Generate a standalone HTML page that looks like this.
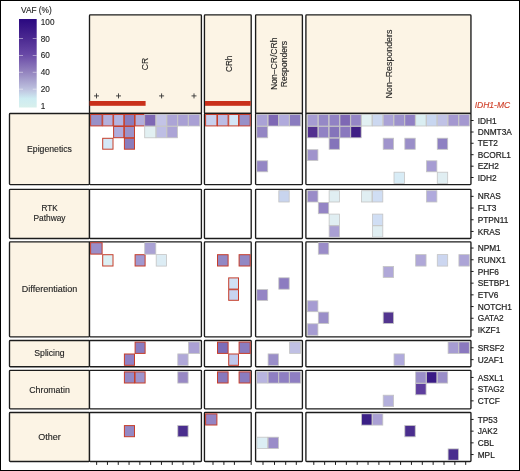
<!DOCTYPE html><html><head><meta charset="utf-8"><style>html,body{margin:0;padding:0;background:#fff}svg{display:block;will-change:transform}text{font-family:"Liberation Sans",sans-serif;fill:#222222;stroke:#222222;stroke-width:0.12px}</style></head><body>
<svg width="520" height="471" viewBox="0 0 520 471">
<defs><linearGradient id="vaf" x1="0" y1="1" x2="0" y2="0"><stop offset="0" stop-color="#d8f0ec"/><stop offset="0.1" stop-color="#cdecf2"/><stop offset="0.2" stop-color="#bfc4e0"/><stop offset="0.4" stop-color="#9484bf"/><stop offset="0.6" stop-color="#6848a6"/><stop offset="0.8" stop-color="#48268f"/><stop offset="1" stop-color="#2a0880"/></linearGradient></defs>
<rect x="0" y="0" width="520" height="471" fill="#fff"/>
<text x="21" y="12.7" font-size="8.3">VAF (%)</text>
<rect x="19" y="19" width="17.7" height="88.5" fill="url(#vaf)"/>
<line x1="19" y1="38.5" x2="23" y2="38.5" stroke="#fff" stroke-opacity="0.45" stroke-width="1"/>
<line x1="32.7" y1="38.5" x2="36.7" y2="38.5" stroke="#fff" stroke-opacity="0.45" stroke-width="1"/>
<line x1="19" y1="55.5" x2="23" y2="55.5" stroke="#fff" stroke-opacity="0.45" stroke-width="1"/>
<line x1="32.7" y1="55.5" x2="36.7" y2="55.5" stroke="#fff" stroke-opacity="0.45" stroke-width="1"/>
<line x1="19" y1="72.3" x2="23" y2="72.3" stroke="#fff" stroke-opacity="0.45" stroke-width="1"/>
<line x1="32.7" y1="72.3" x2="36.7" y2="72.3" stroke="#fff" stroke-opacity="0.45" stroke-width="1"/>
<line x1="19" y1="89.2" x2="23" y2="89.2" stroke="#fff" stroke-opacity="0.45" stroke-width="1"/>
<line x1="32.7" y1="89.2" x2="36.7" y2="89.2" stroke="#fff" stroke-opacity="0.45" stroke-width="1"/>
<text x="40.8" y="25.3" font-size="8.2">100</text>
<text x="40.8" y="41.6" font-size="8.2">80</text>
<text x="40.8" y="58.3" font-size="8.2">60</text>
<text x="40.8" y="75.1" font-size="8.2">40</text>
<text x="40.8" y="92.1" font-size="8.2">20</text>
<text x="40.8" y="108.6" font-size="8.2">1</text>
<rect x="89.50" y="14.85" width="111.90" height="98.65" rx="0.8" fill="#fcf4e5" stroke="#1c1c1c" stroke-width="1.35"/>
<rect x="204.45" y="14.85" width="46.75" height="98.65" rx="0.8" fill="#fcf4e5" stroke="#1c1c1c" stroke-width="1.35"/>
<rect x="255.60" y="14.85" width="46.80" height="98.65" rx="0.8" fill="#fcf4e5" stroke="#1c1c1c" stroke-width="1.35"/>
<rect x="305.90" y="14.85" width="165.05" height="98.65" rx="0.8" fill="#fcf4e5" stroke="#1c1c1c" stroke-width="1.35"/>
<rect x="9.50" y="113.50" width="80.00" height="71.10" rx="0.8" fill="#fcf4e5" stroke="#1c1c1c" stroke-width="1.35"/>
<rect x="89.50" y="113.50" width="111.90" height="71.10" rx="0.8" fill="#fff" stroke="#1c1c1c" stroke-width="1.35"/>
<rect x="204.45" y="113.50" width="46.75" height="71.10" rx="0.8" fill="#fff" stroke="#1c1c1c" stroke-width="1.35"/>
<rect x="255.60" y="113.50" width="46.80" height="71.10" rx="0.8" fill="#fff" stroke="#1c1c1c" stroke-width="1.35"/>
<rect x="305.90" y="113.50" width="165.05" height="71.10" rx="0.8" fill="#fff" stroke="#1c1c1c" stroke-width="1.35"/>
<rect x="9.50" y="189.30" width="80.00" height="49.15" rx="0.8" fill="#fcf4e5" stroke="#1c1c1c" stroke-width="1.35"/>
<rect x="89.50" y="189.30" width="111.90" height="49.15" rx="0.8" fill="#fff" stroke="#1c1c1c" stroke-width="1.35"/>
<rect x="204.45" y="189.30" width="46.75" height="49.15" rx="0.8" fill="#fff" stroke="#1c1c1c" stroke-width="1.35"/>
<rect x="255.60" y="189.30" width="46.80" height="49.15" rx="0.8" fill="#fff" stroke="#1c1c1c" stroke-width="1.35"/>
<rect x="305.90" y="189.30" width="165.05" height="49.15" rx="0.8" fill="#fff" stroke="#1c1c1c" stroke-width="1.35"/>
<rect x="9.50" y="241.90" width="80.00" height="94.95" rx="0.8" fill="#fcf4e5" stroke="#1c1c1c" stroke-width="1.35"/>
<rect x="89.50" y="241.90" width="111.90" height="94.95" rx="0.8" fill="#fff" stroke="#1c1c1c" stroke-width="1.35"/>
<rect x="204.45" y="241.90" width="46.75" height="94.95" rx="0.8" fill="#fff" stroke="#1c1c1c" stroke-width="1.35"/>
<rect x="255.60" y="241.90" width="46.80" height="94.95" rx="0.8" fill="#fff" stroke="#1c1c1c" stroke-width="1.35"/>
<rect x="305.90" y="241.90" width="165.05" height="94.95" rx="0.8" fill="#fff" stroke="#1c1c1c" stroke-width="1.35"/>
<rect x="9.50" y="340.50" width="80.00" height="26.20" rx="0.8" fill="#fcf4e5" stroke="#1c1c1c" stroke-width="1.35"/>
<rect x="89.50" y="340.50" width="111.90" height="26.20" rx="0.8" fill="#fff" stroke="#1c1c1c" stroke-width="1.35"/>
<rect x="204.45" y="340.50" width="46.75" height="26.20" rx="0.8" fill="#fff" stroke="#1c1c1c" stroke-width="1.35"/>
<rect x="255.60" y="340.50" width="46.80" height="26.20" rx="0.8" fill="#fff" stroke="#1c1c1c" stroke-width="1.35"/>
<rect x="305.90" y="340.50" width="165.05" height="26.20" rx="0.8" fill="#fff" stroke="#1c1c1c" stroke-width="1.35"/>
<rect x="9.50" y="370.30" width="80.00" height="38.55" rx="0.8" fill="#fcf4e5" stroke="#1c1c1c" stroke-width="1.35"/>
<rect x="89.50" y="370.30" width="111.90" height="38.55" rx="0.8" fill="#fff" stroke="#1c1c1c" stroke-width="1.35"/>
<rect x="204.45" y="370.30" width="46.75" height="38.55" rx="0.8" fill="#fff" stroke="#1c1c1c" stroke-width="1.35"/>
<rect x="255.60" y="370.30" width="46.80" height="38.55" rx="0.8" fill="#fff" stroke="#1c1c1c" stroke-width="1.35"/>
<rect x="305.90" y="370.30" width="165.05" height="38.55" rx="0.8" fill="#fff" stroke="#1c1c1c" stroke-width="1.35"/>
<rect x="9.50" y="412.50" width="80.00" height="49.00" rx="0.8" fill="#fcf4e5" stroke="#1c1c1c" stroke-width="1.35"/>
<rect x="89.50" y="412.50" width="111.90" height="49.00" rx="0.8" fill="#fff" stroke="#1c1c1c" stroke-width="1.35"/>
<rect x="204.45" y="412.50" width="46.75" height="49.00" rx="0.8" fill="#fff" stroke="#1c1c1c" stroke-width="1.35"/>
<rect x="255.60" y="412.50" width="46.80" height="49.00" rx="0.8" fill="#fff" stroke="#1c1c1c" stroke-width="1.35"/>
<rect x="305.90" y="412.50" width="165.05" height="49.00" rx="0.8" fill="#fff" stroke="#1c1c1c" stroke-width="1.35"/>
<rect x="89.6" y="101.0" width="56.0" height="4.8" fill="#c9301b"/>
<rect x="205.0" y="101.0" width="45.7" height="4.8" fill="#c9301b"/>
<path d="M94.0 95.9h5M96.5 93.4v5" stroke="#333" stroke-width="0.9" fill="none"/>
<path d="M116.0 95.9h5M118.5 93.4v5" stroke="#333" stroke-width="0.9" fill="none"/>
<path d="M159.1 95.9h5M161.6 93.4v5" stroke="#333" stroke-width="0.9" fill="none"/>
<path d="M191.5 95.9h5M194.0 93.4v5" stroke="#333" stroke-width="0.9" fill="none"/>
<text transform="translate(148,64) rotate(-90)" font-size="8.6" text-anchor="middle">CR</text>
<text transform="translate(232.4,63.8) rotate(-90)" font-size="8.2" text-anchor="middle">CRh</text>
<text transform="translate(276.8,63.8) rotate(-90)" font-size="8.6" text-anchor="middle">Non–CR/CRh</text>
<text transform="translate(287,64) rotate(-90)" font-size="8.6" text-anchor="middle">Responders</text>
<text transform="translate(391.8,64) rotate(-90)" font-size="8.85" text-anchor="middle">Non–Responders</text>
<text x="474.7" y="108.2" font-size="8.5" font-style="italic" style="fill:#d0422b;stroke:#d0422b;stroke-width:0.15px">IDH1-MC</text>
<text x="49.5" y="152" font-size="8.7" text-anchor="middle">Epigenetics</text>
<text x="49.5" y="211.1" font-size="8.2" text-anchor="middle">RTK</text>
<text x="49.5" y="221.4" font-size="8.4" text-anchor="middle">Pathway</text>
<text x="49.5" y="292.2" font-size="9" text-anchor="middle">Differentiation</text>
<text x="49.5" y="356.4" font-size="8.7" text-anchor="middle">Splicing</text>
<text x="49.5" y="392.6" font-size="8.8" text-anchor="middle">Chromatin</text>
<text x="49.5" y="439.6" font-size="9" text-anchor="middle">Other</text>
<rect x="90.60" y="114.50" width="11.50" height="11.40" fill="#9890c8" stroke="#c63e2b" stroke-width="1.0"/>
<rect x="102.70" y="114.50" width="10.30" height="11.40" fill="#b4b0dc" stroke="#c63e2b" stroke-width="1.0"/>
<rect x="113.60" y="114.50" width="10.20" height="11.40" fill="#b4b4e0" stroke="#c63e2b" stroke-width="1.0"/>
<rect x="124.40" y="114.50" width="10.10" height="11.40" fill="#8a7cbc" stroke="#c63e2b" stroke-width="1.0"/>
<rect x="135.10" y="114.50" width="10.00" height="11.40" fill="#b2aedb" stroke="#c63e2b" stroke-width="1.0"/>
<rect x="113.60" y="126.50" width="10.20" height="11.20" fill="#b0acdc" stroke="#c63e2b" stroke-width="1.0"/>
<rect x="124.40" y="126.50" width="10.10" height="11.20" fill="#9b92c9" stroke="#c63e2b" stroke-width="1.0"/>
<rect x="102.70" y="138.30" width="10.30" height="10.90" fill="#d5e8f7" stroke="#c63e2b" stroke-width="1.0"/>
<rect x="124.40" y="138.30" width="10.10" height="10.90" fill="#8a7cbc" stroke="#c63e2b" stroke-width="1.0"/>
<rect x="205.60" y="114.50" width="11.30" height="11.40" fill="#c8d0ee" stroke="#c63e2b" stroke-width="1.0"/>
<rect x="217.50" y="114.50" width="10.60" height="11.40" fill="#bcbce4" stroke="#c63e2b" stroke-width="1.0"/>
<rect x="228.70" y="114.50" width="9.80" height="11.40" fill="#d4e6f6" stroke="#c63e2b" stroke-width="1.0"/>
<rect x="239.10" y="114.50" width="11.10" height="11.40" fill="#9890c8" stroke="#c63e2b" stroke-width="1.0"/>
<rect x="144.70" y="114.40" width="11.10" height="11.60" fill="#7e68b4" stroke="#c4c4c4" stroke-width="0.8"/>
<rect x="156.20" y="114.40" width="10.40" height="11.60" fill="#c3c3e6" stroke="#c4c4c4" stroke-width="0.8"/>
<rect x="167.00" y="114.40" width="10.40" height="11.60" fill="#aca4d6" stroke="#c4c4c4" stroke-width="0.8"/>
<rect x="177.80" y="114.40" width="10.30" height="11.60" fill="#a9a0d4" stroke="#c4c4c4" stroke-width="0.8"/>
<rect x="188.50" y="114.40" width="11.20" height="11.60" fill="#a9a0d4" stroke="#c4c4c4" stroke-width="0.8"/>
<rect x="144.70" y="126.40" width="11.10" height="11.40" fill="#e2f0f2" stroke="#c4c4c4" stroke-width="0.8"/>
<rect x="156.20" y="126.40" width="10.40" height="11.40" fill="#bebee4" stroke="#c4c4c4" stroke-width="0.8"/>
<rect x="167.00" y="126.40" width="10.40" height="11.40" fill="#aca4d6" stroke="#c4c4c4" stroke-width="0.8"/>
<rect x="256.80" y="114.40" width="10.90" height="11.60" fill="#aaa2d6" stroke="#c4c4c4" stroke-width="0.8"/>
<rect x="268.10" y="114.40" width="10.30" height="11.60" fill="#7e68b4" stroke="#c4c4c4" stroke-width="0.8"/>
<rect x="278.80" y="114.40" width="10.40" height="11.60" fill="#b0aadc" stroke="#c4c4c4" stroke-width="0.8"/>
<rect x="289.60" y="114.40" width="10.80" height="11.60" fill="#8a7cbf" stroke="#c4c4c4" stroke-width="0.8"/>
<rect x="256.80" y="126.40" width="10.90" height="11.40" fill="#9486c4" stroke="#c4c4c4" stroke-width="0.8"/>
<rect x="256.80" y="160.80" width="10.90" height="11.00" fill="#9486c4" stroke="#c4c4c4" stroke-width="0.8"/>
<rect x="307.50" y="114.40" width="10.41" height="11.60" fill="#a69cd2" stroke="#c4c4c4" stroke-width="0.8"/>
<rect x="318.31" y="114.40" width="10.41" height="11.60" fill="#9588c6" stroke="#c4c4c4" stroke-width="0.8"/>
<rect x="329.13" y="114.40" width="10.41" height="11.60" fill="#9182c4" stroke="#c4c4c4" stroke-width="0.8"/>
<rect x="339.94" y="114.40" width="10.41" height="11.60" fill="#7e68b4" stroke="#c4c4c4" stroke-width="0.8"/>
<rect x="350.76" y="114.40" width="10.41" height="11.60" fill="#9586c6" stroke="#c4c4c4" stroke-width="0.8"/>
<rect x="361.57" y="114.40" width="10.41" height="11.60" fill="#e2f0f2" stroke="#c4c4c4" stroke-width="0.8"/>
<rect x="372.39" y="114.40" width="10.41" height="11.60" fill="#ccd8f0" stroke="#c4c4c4" stroke-width="0.8"/>
<rect x="383.20" y="114.40" width="10.41" height="11.60" fill="#aaa2d6" stroke="#c4c4c4" stroke-width="0.8"/>
<rect x="394.02" y="114.40" width="10.41" height="11.60" fill="#9d92cc" stroke="#c4c4c4" stroke-width="0.8"/>
<rect x="404.83" y="114.40" width="10.41" height="11.60" fill="#9080c4" stroke="#c4c4c4" stroke-width="0.8"/>
<rect x="415.65" y="114.40" width="10.41" height="11.60" fill="#daeef2" stroke="#c4c4c4" stroke-width="0.8"/>
<rect x="426.46" y="114.40" width="10.42" height="11.60" fill="#c8d6f0" stroke="#c4c4c4" stroke-width="0.8"/>
<rect x="437.28" y="114.40" width="10.41" height="11.60" fill="#c0c2e6" stroke="#c4c4c4" stroke-width="0.8"/>
<rect x="448.09" y="114.40" width="10.42" height="11.60" fill="#a498d0" stroke="#c4c4c4" stroke-width="0.8"/>
<rect x="458.91" y="114.40" width="10.41" height="11.60" fill="#a498d0" stroke="#c4c4c4" stroke-width="0.8"/>
<rect x="307.50" y="126.40" width="10.41" height="11.40" fill="#52308f" stroke="#c4c4c4" stroke-width="0.8"/>
<rect x="318.31" y="126.40" width="10.41" height="11.40" fill="#9182c4" stroke="#c4c4c4" stroke-width="0.8"/>
<rect x="329.13" y="126.40" width="10.41" height="11.40" fill="#8474ba" stroke="#c4c4c4" stroke-width="0.8"/>
<rect x="339.94" y="126.40" width="10.41" height="11.40" fill="#8a78be" stroke="#c4c4c4" stroke-width="0.8"/>
<rect x="350.76" y="126.40" width="10.41" height="11.40" fill="#3f1f85" stroke="#c4c4c4" stroke-width="0.8"/>
<rect x="329.13" y="138.20" width="10.41" height="11.10" fill="#8474ba" stroke="#c4c4c4" stroke-width="0.8"/>
<rect x="383.20" y="138.20" width="10.41" height="11.10" fill="#a094cc" stroke="#c4c4c4" stroke-width="0.8"/>
<rect x="404.83" y="138.20" width="10.41" height="11.10" fill="#9a8ec8" stroke="#c4c4c4" stroke-width="0.8"/>
<rect x="437.28" y="138.20" width="10.41" height="11.10" fill="#8e80c2" stroke="#c4c4c4" stroke-width="0.8"/>
<rect x="307.50" y="149.70" width="10.41" height="10.70" fill="#a094cc" stroke="#c4c4c4" stroke-width="0.8"/>
<rect x="426.46" y="160.80" width="10.42" height="11.00" fill="#a69cd2" stroke="#c4c4c4" stroke-width="0.8"/>
<rect x="394.02" y="172.20" width="10.41" height="11.30" fill="#d8ecf6" stroke="#c4c4c4" stroke-width="0.8"/>
<rect x="437.28" y="172.20" width="10.41" height="11.30" fill="#e0eef2" stroke="#c4c4c4" stroke-width="0.8"/>
<rect x="278.80" y="190.70" width="10.40" height="11.30" fill="#c8d4ee" stroke="#c4c4c4" stroke-width="0.8"/>
<rect x="307.50" y="190.70" width="10.41" height="11.30" fill="#9a8cc8" stroke="#c4c4c4" stroke-width="0.8"/>
<rect x="329.13" y="190.70" width="10.41" height="11.30" fill="#e0eef2" stroke="#c4c4c4" stroke-width="0.8"/>
<rect x="361.57" y="190.70" width="10.41" height="11.30" fill="#e0eef2" stroke="#c4c4c4" stroke-width="0.8"/>
<rect x="372.39" y="190.70" width="10.41" height="11.30" fill="#d0def4" stroke="#c4c4c4" stroke-width="0.8"/>
<rect x="426.46" y="190.70" width="10.42" height="11.30" fill="#b0aadc" stroke="#c4c4c4" stroke-width="0.8"/>
<rect x="318.31" y="202.40" width="10.41" height="11.30" fill="#9484c4" stroke="#c4c4c4" stroke-width="0.8"/>
<rect x="329.13" y="214.10" width="10.41" height="11.30" fill="#e0eef2" stroke="#c4c4c4" stroke-width="0.8"/>
<rect x="372.39" y="214.10" width="10.41" height="11.30" fill="#d0def4" stroke="#c4c4c4" stroke-width="0.8"/>
<rect x="329.13" y="225.80" width="10.41" height="11.30" fill="#aaa0d4" stroke="#c4c4c4" stroke-width="0.8"/>
<rect x="372.39" y="225.80" width="10.41" height="11.30" fill="#e0eef2" stroke="#c4c4c4" stroke-width="0.8"/>
<rect x="90.60" y="242.70" width="11.50" height="11.40" fill="#9a8ec8" stroke="#c63e2b" stroke-width="1.0"/>
<rect x="102.70" y="254.70" width="10.30" height="11.30" fill="#dcf0f4" stroke="#c63e2b" stroke-width="1.0"/>
<rect x="135.10" y="254.70" width="10.00" height="11.30" fill="#a098d0" stroke="#c63e2b" stroke-width="1.0"/>
<rect x="217.50" y="254.70" width="10.60" height="11.30" fill="#9288c4" stroke="#c63e2b" stroke-width="1.0"/>
<rect x="239.10" y="254.70" width="11.10" height="11.30" fill="#9288c4" stroke="#c63e2b" stroke-width="1.0"/>
<rect x="228.70" y="277.90" width="9.80" height="11.20" fill="#d0e0f4" stroke="#c63e2b" stroke-width="1.0"/>
<rect x="228.70" y="289.70" width="9.80" height="10.60" fill="#c8d4f0" stroke="#c63e2b" stroke-width="1.0"/>
<rect x="144.70" y="242.60" width="11.10" height="11.60" fill="#aaa2d4" stroke="#c4c4c4" stroke-width="0.8"/>
<rect x="156.20" y="254.60" width="10.40" height="11.50" fill="#dcecf4" stroke="#c4c4c4" stroke-width="0.8"/>
<rect x="278.80" y="277.80" width="10.40" height="11.40" fill="#8c7cc0" stroke="#c4c4c4" stroke-width="0.8"/>
<rect x="256.80" y="289.60" width="10.90" height="10.80" fill="#9484c4" stroke="#c4c4c4" stroke-width="0.8"/>
<rect x="318.31" y="242.60" width="10.41" height="11.60" fill="#9a8cc8" stroke="#c4c4c4" stroke-width="0.8"/>
<rect x="415.65" y="254.60" width="10.41" height="11.50" fill="#b0a8d8" stroke="#c4c4c4" stroke-width="0.8"/>
<rect x="437.28" y="254.60" width="10.41" height="11.50" fill="#ccd6f0" stroke="#c4c4c4" stroke-width="0.8"/>
<rect x="458.91" y="254.60" width="10.41" height="11.50" fill="#aca4d6" stroke="#c4c4c4" stroke-width="0.8"/>
<rect x="383.20" y="266.50" width="10.41" height="10.90" fill="#b0a8d8" stroke="#c4c4c4" stroke-width="0.8"/>
<rect x="307.50" y="300.80" width="10.41" height="10.90" fill="#a69cd2" stroke="#c4c4c4" stroke-width="0.8"/>
<rect x="318.31" y="312.10" width="10.41" height="11.30" fill="#9a8ec8" stroke="#c4c4c4" stroke-width="0.8"/>
<rect x="383.20" y="312.10" width="10.41" height="11.30" fill="#52358f" stroke="#c4c4c4" stroke-width="0.8"/>
<rect x="307.50" y="323.80" width="10.41" height="11.50" fill="#a69cd2" stroke="#c4c4c4" stroke-width="0.8"/>
<rect x="135.10" y="342.10" width="10.00" height="11.30" fill="#8a7cc0" stroke="#c63e2b" stroke-width="1.0"/>
<rect x="124.40" y="354.00" width="10.10" height="11.30" fill="#9080c4" stroke="#c63e2b" stroke-width="1.0"/>
<rect x="217.50" y="342.10" width="10.60" height="11.30" fill="#7c6cb8" stroke="#c63e2b" stroke-width="1.0"/>
<rect x="239.10" y="342.10" width="11.10" height="11.30" fill="#8a7cbf" stroke="#c63e2b" stroke-width="1.0"/>
<rect x="228.70" y="354.00" width="9.80" height="11.30" fill="#c0c8ec" stroke="#c63e2b" stroke-width="1.0"/>
<rect x="188.50" y="342.00" width="11.20" height="11.50" fill="#aaa0d4" stroke="#c4c4c4" stroke-width="0.8"/>
<rect x="177.80" y="353.90" width="10.30" height="11.50" fill="#b0a8d8" stroke="#c4c4c4" stroke-width="0.8"/>
<rect x="289.60" y="342.00" width="10.80" height="11.50" fill="#c0c0e4" stroke="#c4c4c4" stroke-width="0.8"/>
<rect x="268.10" y="353.90" width="10.30" height="11.50" fill="#9a8ec8" stroke="#c4c4c4" stroke-width="0.8"/>
<rect x="448.09" y="342.00" width="10.42" height="11.50" fill="#a69cd2" stroke="#c4c4c4" stroke-width="0.8"/>
<rect x="458.91" y="342.00" width="10.41" height="11.50" fill="#8a78bf" stroke="#c4c4c4" stroke-width="0.8"/>
<rect x="394.02" y="353.90" width="10.41" height="11.50" fill="#b0aadc" stroke="#c4c4c4" stroke-width="0.8"/>
<rect x="124.40" y="371.90" width="10.10" height="11.10" fill="#9488c4" stroke="#c63e2b" stroke-width="1.0"/>
<rect x="135.10" y="371.90" width="10.00" height="11.10" fill="#9e94cc" stroke="#c63e2b" stroke-width="1.0"/>
<rect x="217.50" y="371.90" width="10.60" height="11.10" fill="#8878bc" stroke="#c63e2b" stroke-width="1.0"/>
<rect x="239.10" y="371.90" width="11.10" height="11.10" fill="#8a7cbf" stroke="#c63e2b" stroke-width="1.0"/>
<rect x="177.80" y="371.80" width="10.30" height="11.30" fill="#9888c4" stroke="#c4c4c4" stroke-width="0.8"/>
<rect x="256.80" y="371.80" width="10.90" height="11.30" fill="#b8b4e0" stroke="#c4c4c4" stroke-width="0.8"/>
<rect x="268.10" y="371.80" width="10.30" height="11.30" fill="#8e7ec2" stroke="#c4c4c4" stroke-width="0.8"/>
<rect x="278.80" y="371.80" width="10.40" height="11.30" fill="#8e7ec2" stroke="#c4c4c4" stroke-width="0.8"/>
<rect x="289.60" y="371.80" width="10.80" height="11.30" fill="#8e7ec2" stroke="#c4c4c4" stroke-width="0.8"/>
<rect x="415.65" y="371.80" width="10.41" height="11.30" fill="#9a8ec8" stroke="#c4c4c4" stroke-width="0.8"/>
<rect x="426.46" y="371.80" width="10.42" height="11.30" fill="#3a1a86" stroke="#c4c4c4" stroke-width="0.8"/>
<rect x="437.28" y="371.80" width="10.41" height="11.30" fill="#9a8ec8" stroke="#c4c4c4" stroke-width="0.8"/>
<rect x="415.65" y="383.50" width="10.41" height="11.30" fill="#5e3e9e" stroke="#c4c4c4" stroke-width="0.8"/>
<rect x="383.20" y="395.20" width="10.41" height="11.30" fill="#b4b0dc" stroke="#c4c4c4" stroke-width="0.8"/>
<rect x="124.40" y="425.60" width="10.10" height="11.10" fill="#9488c4" stroke="#c63e2b" stroke-width="1.0"/>
<rect x="205.60" y="413.90" width="11.30" height="11.10" fill="#9484c4" stroke="#c63e2b" stroke-width="1.0"/>
<rect x="177.80" y="425.50" width="10.30" height="11.30" fill="#4a2e8e" stroke="#c4c4c4" stroke-width="0.8"/>
<rect x="256.80" y="437.20" width="10.90" height="11.30" fill="#dceef4" stroke="#c4c4c4" stroke-width="0.8"/>
<rect x="268.10" y="437.20" width="10.30" height="11.30" fill="#9a8cc8" stroke="#c4c4c4" stroke-width="0.8"/>
<rect x="361.57" y="413.80" width="10.41" height="11.30" fill="#3a1f86" stroke="#c4c4c4" stroke-width="0.8"/>
<rect x="372.39" y="413.80" width="10.41" height="11.30" fill="#aaa0d4" stroke="#c4c4c4" stroke-width="0.8"/>
<rect x="404.83" y="425.50" width="10.41" height="11.30" fill="#4a2e8e" stroke="#c4c4c4" stroke-width="0.8"/>
<rect x="448.09" y="448.90" width="10.42" height="11.30" fill="#4a2e8e" stroke="#c4c4c4" stroke-width="0.8"/>
<line x1="470.8" y1="120.50" x2="473.6" y2="120.50" stroke="#1c1c1c" stroke-width="1.0"/>
<text x="477.7" y="123.60" font-size="8.3" style="stroke-width:0.2px">IDH1</text>
<line x1="470.8" y1="132.00" x2="473.6" y2="132.00" stroke="#1c1c1c" stroke-width="1.0"/>
<text x="477.7" y="135.10" font-size="8.3" style="stroke-width:0.2px">DNMT3A</text>
<line x1="470.8" y1="143.25" x2="473.6" y2="143.25" stroke="#1c1c1c" stroke-width="1.0"/>
<text x="477.7" y="146.35" font-size="8.3" style="stroke-width:0.2px">TET2</text>
<line x1="470.8" y1="154.70" x2="473.6" y2="154.70" stroke="#1c1c1c" stroke-width="1.0"/>
<text x="477.7" y="157.80" font-size="8.3" style="stroke-width:0.2px">BCORL1</text>
<line x1="470.8" y1="166.20" x2="473.6" y2="166.20" stroke="#1c1c1c" stroke-width="1.0"/>
<text x="477.7" y="169.30" font-size="8.3" style="stroke-width:0.2px">EZH2</text>
<line x1="470.8" y1="177.50" x2="473.6" y2="177.50" stroke="#1c1c1c" stroke-width="1.0"/>
<text x="477.7" y="180.60" font-size="8.3" style="stroke-width:0.2px">IDH2</text>
<line x1="470.8" y1="196.35" x2="473.6" y2="196.35" stroke="#1c1c1c" stroke-width="1.0"/>
<text x="477.7" y="199.45" font-size="8.3" style="stroke-width:0.2px">NRAS</text>
<line x1="470.8" y1="208.05" x2="473.6" y2="208.05" stroke="#1c1c1c" stroke-width="1.0"/>
<text x="477.7" y="211.15" font-size="8.3" style="stroke-width:0.2px">FLT3</text>
<line x1="470.8" y1="219.75" x2="473.6" y2="219.75" stroke="#1c1c1c" stroke-width="1.0"/>
<text x="477.7" y="222.85" font-size="8.3" style="stroke-width:0.2px">PTPN11</text>
<line x1="470.8" y1="231.45" x2="473.6" y2="231.45" stroke="#1c1c1c" stroke-width="1.0"/>
<text x="477.7" y="234.55" font-size="8.3" style="stroke-width:0.2px">KRAS</text>
<line x1="470.8" y1="248.05" x2="473.6" y2="248.05" stroke="#1c1c1c" stroke-width="1.0"/>
<text x="477.7" y="251.15" font-size="8.3" style="stroke-width:0.2px">NPM1</text>
<line x1="470.8" y1="259.75" x2="473.6" y2="259.75" stroke="#1c1c1c" stroke-width="1.0"/>
<text x="477.7" y="262.85" font-size="8.3" style="stroke-width:0.2px">RUNX1</text>
<line x1="470.8" y1="271.45" x2="473.6" y2="271.45" stroke="#1c1c1c" stroke-width="1.0"/>
<text x="477.7" y="274.55" font-size="8.3" style="stroke-width:0.2px">PHF6</text>
<line x1="470.8" y1="283.15" x2="473.6" y2="283.15" stroke="#1c1c1c" stroke-width="1.0"/>
<text x="477.7" y="286.25" font-size="8.3" style="stroke-width:0.2px">SETBP1</text>
<line x1="470.8" y1="294.85" x2="473.6" y2="294.85" stroke="#1c1c1c" stroke-width="1.0"/>
<text x="477.7" y="297.95" font-size="8.3" style="stroke-width:0.2px">ETV6</text>
<line x1="470.8" y1="306.55" x2="473.6" y2="306.55" stroke="#1c1c1c" stroke-width="1.0"/>
<text x="477.7" y="309.65" font-size="8.3" style="stroke-width:0.2px">NOTCH1</text>
<line x1="470.8" y1="318.25" x2="473.6" y2="318.25" stroke="#1c1c1c" stroke-width="1.0"/>
<text x="477.7" y="321.35" font-size="8.3" style="stroke-width:0.2px">GATA2</text>
<line x1="470.8" y1="329.95" x2="473.6" y2="329.95" stroke="#1c1c1c" stroke-width="1.0"/>
<text x="477.7" y="333.05" font-size="8.3" style="stroke-width:0.2px">IKZF1</text>
<line x1="470.8" y1="347.75" x2="473.6" y2="347.75" stroke="#1c1c1c" stroke-width="1.0"/>
<text x="477.7" y="350.85" font-size="8.3" style="stroke-width:0.2px">SRSF2</text>
<line x1="470.8" y1="359.65" x2="473.6" y2="359.65" stroke="#1c1c1c" stroke-width="1.0"/>
<text x="477.7" y="362.75" font-size="8.3" style="stroke-width:0.2px">U2AF1</text>
<line x1="470.8" y1="377.45" x2="473.6" y2="377.45" stroke="#1c1c1c" stroke-width="1.0"/>
<text x="477.7" y="380.55" font-size="8.3" style="stroke-width:0.2px">ASXL1</text>
<line x1="470.8" y1="389.15" x2="473.6" y2="389.15" stroke="#1c1c1c" stroke-width="1.0"/>
<text x="477.7" y="392.25" font-size="8.3" style="stroke-width:0.2px">STAG2</text>
<line x1="470.8" y1="400.85" x2="473.6" y2="400.85" stroke="#1c1c1c" stroke-width="1.0"/>
<text x="477.7" y="403.95" font-size="8.3" style="stroke-width:0.2px">CTCF</text>
<line x1="470.8" y1="419.45" x2="473.6" y2="419.45" stroke="#1c1c1c" stroke-width="1.0"/>
<text x="477.7" y="422.55" font-size="8.3" style="stroke-width:0.2px">TP53</text>
<line x1="470.8" y1="431.15" x2="473.6" y2="431.15" stroke="#1c1c1c" stroke-width="1.0"/>
<text x="477.7" y="434.25" font-size="8.3" style="stroke-width:0.2px">JAK2</text>
<line x1="470.8" y1="442.85" x2="473.6" y2="442.85" stroke="#1c1c1c" stroke-width="1.0"/>
<text x="477.7" y="445.95" font-size="8.3" style="stroke-width:0.2px">CBL</text>
<line x1="470.8" y1="454.55" x2="473.6" y2="454.55" stroke="#1c1c1c" stroke-width="1.0"/>
<text x="477.7" y="457.65" font-size="8.3" style="stroke-width:0.2px">MPL</text>
<line x1="96.65" y1="461.5" x2="96.65" y2="464.9" stroke="#1c1c1c" stroke-width="1.0"/>
<line x1="107.45" y1="461.5" x2="107.45" y2="464.9" stroke="#1c1c1c" stroke-width="1.0"/>
<line x1="118.25" y1="461.5" x2="118.25" y2="464.9" stroke="#1c1c1c" stroke-width="1.0"/>
<line x1="129.05" y1="461.5" x2="129.05" y2="464.9" stroke="#1c1c1c" stroke-width="1.0"/>
<line x1="139.85" y1="461.5" x2="139.85" y2="464.9" stroke="#1c1c1c" stroke-width="1.0"/>
<line x1="150.65" y1="461.5" x2="150.65" y2="464.9" stroke="#1c1c1c" stroke-width="1.0"/>
<line x1="161.45" y1="461.5" x2="161.45" y2="464.9" stroke="#1c1c1c" stroke-width="1.0"/>
<line x1="172.25" y1="461.5" x2="172.25" y2="464.9" stroke="#1c1c1c" stroke-width="1.0"/>
<line x1="183.05" y1="461.5" x2="183.05" y2="464.9" stroke="#1c1c1c" stroke-width="1.0"/>
<line x1="193.85" y1="461.5" x2="193.85" y2="464.9" stroke="#1c1c1c" stroke-width="1.0"/>
<line x1="213.00" y1="461.5" x2="213.00" y2="464.9" stroke="#1c1c1c" stroke-width="1.0"/>
<line x1="223.90" y1="461.5" x2="223.90" y2="464.9" stroke="#1c1c1c" stroke-width="1.0"/>
<line x1="234.40" y1="461.5" x2="234.40" y2="464.9" stroke="#1c1c1c" stroke-width="1.0"/>
<line x1="251.20" y1="461.5" x2="251.20" y2="464.9" stroke="#1c1c1c" stroke-width="1.0"/>
<line x1="263.00" y1="461.5" x2="263.00" y2="464.9" stroke="#1c1c1c" stroke-width="1.0"/>
<line x1="274.50" y1="461.5" x2="274.50" y2="464.9" stroke="#1c1c1c" stroke-width="1.0"/>
<line x1="285.70" y1="461.5" x2="285.70" y2="464.9" stroke="#1c1c1c" stroke-width="1.0"/>
<line x1="296.30" y1="461.5" x2="296.30" y2="464.9" stroke="#1c1c1c" stroke-width="1.0"/>
<line x1="313.80" y1="461.5" x2="313.80" y2="464.9" stroke="#1c1c1c" stroke-width="1.0"/>
<line x1="324.65" y1="461.5" x2="324.65" y2="464.9" stroke="#1c1c1c" stroke-width="1.0"/>
<line x1="335.50" y1="461.5" x2="335.50" y2="464.9" stroke="#1c1c1c" stroke-width="1.0"/>
<line x1="346.35" y1="461.5" x2="346.35" y2="464.9" stroke="#1c1c1c" stroke-width="1.0"/>
<line x1="357.20" y1="461.5" x2="357.20" y2="464.9" stroke="#1c1c1c" stroke-width="1.0"/>
<line x1="368.05" y1="461.5" x2="368.05" y2="464.9" stroke="#1c1c1c" stroke-width="1.0"/>
<line x1="378.90" y1="461.5" x2="378.90" y2="464.9" stroke="#1c1c1c" stroke-width="1.0"/>
<line x1="389.75" y1="461.5" x2="389.75" y2="464.9" stroke="#1c1c1c" stroke-width="1.0"/>
<line x1="400.60" y1="461.5" x2="400.60" y2="464.9" stroke="#1c1c1c" stroke-width="1.0"/>
<line x1="411.45" y1="461.5" x2="411.45" y2="464.9" stroke="#1c1c1c" stroke-width="1.0"/>
<line x1="422.30" y1="461.5" x2="422.30" y2="464.9" stroke="#1c1c1c" stroke-width="1.0"/>
<line x1="433.15" y1="461.5" x2="433.15" y2="464.9" stroke="#1c1c1c" stroke-width="1.0"/>
<line x1="444.00" y1="461.5" x2="444.00" y2="464.9" stroke="#1c1c1c" stroke-width="1.0"/>
<line x1="454.85" y1="461.5" x2="454.85" y2="464.9" stroke="#1c1c1c" stroke-width="1.0"/>
<line x1="465.70" y1="461.5" x2="465.70" y2="464.9" stroke="#1c1c1c" stroke-width="1.0"/>
<rect x="0.5" y="0.5" width="519" height="470" fill="none" stroke="#000" stroke-width="1"/>
</svg></body></html>
